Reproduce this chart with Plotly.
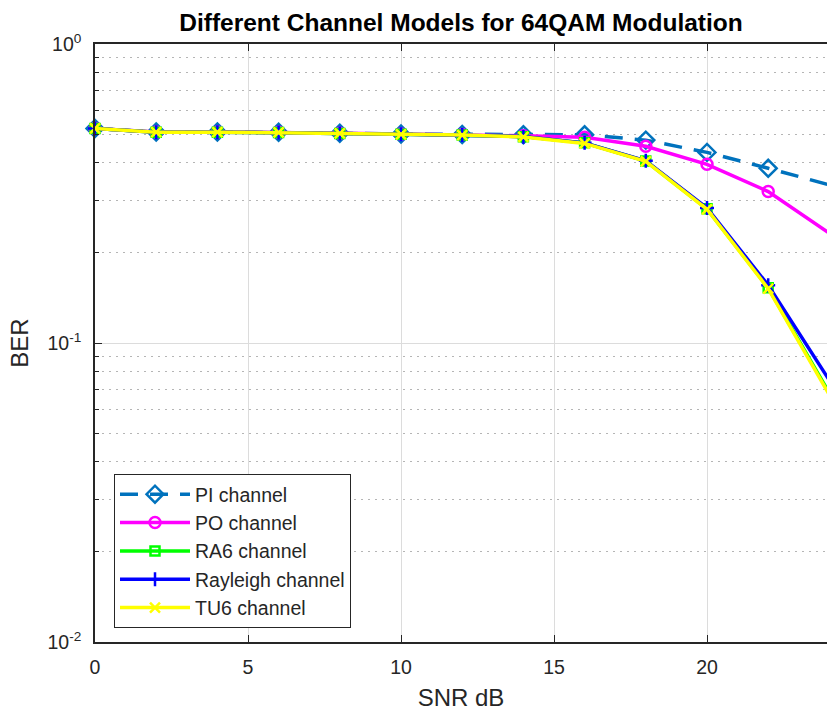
import plotly.graph_objects as go

# SNR sweep (dB) and measured bit error rates per channel model
snr_db = [0, 2, 4, 6, 8, 10, 12, 14, 16, 18, 20, 22, 24]
ber_pi = [0.522, 0.508, 0.508, 0.507, 0.503, 0.500, 0.498, 0.497, 0.497, 0.477, 0.434, 0.384, 0.338]
ber_po = [0.522, 0.508, 0.508, 0.507, 0.503, 0.500, 0.498, 0.493, 0.488, 0.455, 0.396, 0.321, 0.233]
ber_ra6 = [0.522, 0.507, 0.507, 0.506, 0.502, 0.499, 0.496, 0.490, 0.467, 0.406, 0.281, 0.153, 0.068]
ber_rayleigh = [0.522, 0.507, 0.507, 0.506, 0.502, 0.499, 0.496, 0.490, 0.467, 0.407, 0.283, 0.156, 0.075]
ber_tu6 = [0.522, 0.507, 0.507, 0.506, 0.502, 0.499, 0.496, 0.489, 0.465, 0.405, 0.280, 0.152, 0.067]

y_tick_vals = [0.01, 0.1, 1]
y_tick_text = ["10<sup>-2</sup>", "10<sup>-1</sup>", "10<sup>0</sup>"]
x_tick_vals = [0, 5, 10, 15, 20]

FONT = "Liberation Sans, Arial, Helvetica, sans-serif"
AXIS_COLOR = "#262626"

series = [
    ("PI channel", ber_pi, "#0072BD", "diamond-open", 13, "18px,12px"),
    ("PO channel", ber_po, "#FF00FF", "circle-open", 11, "solid"),
    ("RA6 channel", ber_ra6, "#00FF00", "square-open", 9, "solid"),
    ("Rayleigh channel", ber_rayleigh, "#0000FF", "cross-thin-open", 10, "solid"),
    ("TU6 channel", ber_tu6, "#FFFF00", "x-thin-open", 10, "solid"),
]

fig = go.Figure()
for name, ber, color, symbol, size, dash in series:
    fig.add_trace(go.Scatter(
        x=snr_db, y=ber, name=name, mode="lines+markers",
        line=dict(color=color, width=3.5, dash=dash),
        marker=dict(symbol=symbol, size=size, color=color,
                    line=dict(color=color, width=2.5)),
        cliponaxis=False,
    ))

fig.update_layout(
    width=827, height=715,
    margin=dict(l=95, r=0, t=44, b=73),
    paper_bgcolor="white", plot_bgcolor="white",
    font=dict(family=FONT, color=AXIS_COLOR),
    title=dict(
        text="<b>Different Channel Models for 64QAM Modulation</b>",
        font=dict(family=FONT, size=24.5, color="black"),
        x=0.5, xref="paper", xanchor="center",
        y=1 - 22 / 715, yref="container", yanchor="middle",
    ),
    showlegend=True,
    legend=dict(
        x=(114 - 95) / 732, y=(642 - 474) / 598,
        xanchor="left", yanchor="top",
        bgcolor="white", bordercolor=AXIS_COLOR, borderwidth=1,
        font=dict(family=FONT, size=19.5, color=AXIS_COLOR),
        itemwidth=70, tracegroupgap=0,
    ),
    xaxis=dict(
        range=[0, 732 / 30.6],
        tickvals=x_tick_vals,
        showline=True, linecolor=AXIS_COLOR, linewidth=1.5, mirror="ticks",
        ticks="inside", ticklen=7, tickcolor=AXIS_COLOR,
        showgrid=True, gridcolor="#dcdcdc", gridwidth=1,
        zeroline=False,
        tickfont=dict(size=19.5, color=AXIS_COLOR),
        ticklabelstandoff=7,
        title=dict(text="SNR dB", font=dict(size=24, color=AXIS_COLOR), standoff=12),
    ),
    yaxis=dict(
        type="log", range=[-2, 0],
        tickvals=y_tick_vals, ticktext=y_tick_text,
        showline=True, linecolor=AXIS_COLOR, linewidth=1.5,
        ticks="inside", ticklen=7, tickcolor=AXIS_COLOR,
        showgrid=True, gridcolor="#dcdcdc", gridwidth=1,
        zeroline=False,
        tickfont=dict(size=19.5, color=AXIS_COLOR),
        ticklabelstandoff=8,
        minor=dict(dtick="D1", showgrid=True, gridcolor="#b5b5b5",
                   griddash="2px,5px", gridwidth=1,
                   ticks="inside", ticklen=4, tickcolor=AXIS_COLOR),
        title=dict(text="BER", font=dict(size=24, color=AXIS_COLOR), standoff=12),
    ),
)

fig.write_html("out.html")
